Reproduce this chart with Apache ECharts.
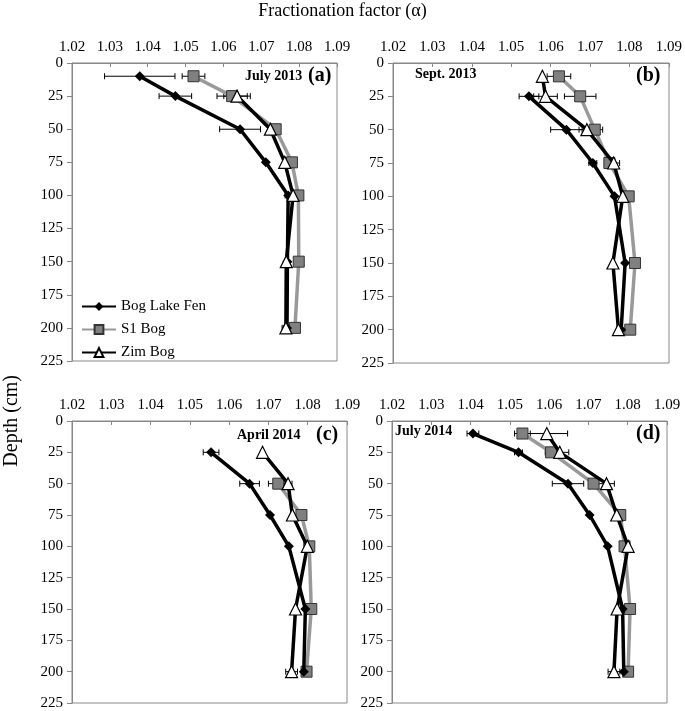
<!DOCTYPE html>
<html>
<head>
<meta charset="utf-8">
<script src="https://cdn.jsdelivr.net/npm/echarts@6/dist/echarts.min.js"></script>
<style>html,body{margin:0;padding:0;background:#fff}#chart{width:685px;height:711px}</style>
</head>
<body>
<div id="chart"></div>
<script>
// depth levels (cm)
var depthAll = [10, 25, 50, 75, 100, 150, 200];
var depthFrom25 = [25, 50, 75, 100, 150, 200];
var depthFrom50 = [50, 75, 100, 150, 200];

// panel (a) July 2013
var fenA = [1.0379, 1.0473, 1.0644, 1.0712, 1.0771, 1.0769, 1.0768];
var fenAErr = [0.0093, 0.0043, 0.0054, 0, 0.0008, 0, 0.001];
var s1A = [1.0521, 1.0623, 1.0738, 1.0781, 1.0798, 1.0799, 1.0789];
var s1AErr = [0.003, 0.004, 0, 0, 0, 0, 0];
var zimA = [1.0636, 1.0724, 1.0762, 1.0784, 1.0766, 1.0765];
var zimAErr = [0.0035, 0, 0, 0, 0, 0.001];

// panel (b) Sept. 2013
var fenB = [1.0545, 1.0640, 1.0707, 1.0762, 1.0789, 1.0779];
var fenBErr = [0.0025, 0.004, 0.001, 0, 0, 0];
var s1B = [1.0621, 1.0675, 1.0712, 1.0749, 1.0798, 1.0814, 1.0802];
var s1BErr = [0.003, 0.004, 0.002, 0, 0, 0, 0];
var zimB = [1.0579, 1.0587, 1.0692, 1.0760, 1.0783, 1.0758, 1.0772];
var zimBErr = [0, 0.003, 0.002, 0.0015, 0, 0, 0];

// panel (c) April 2014
var fenC = [1.0554, 1.0652, 1.0704, 1.0752, 1.0794, 1.0790];
var fenCErr = [0.002, 0.0025, 0, 0, 0, 0];
var s1C = [1.0725, 1.0784, 1.0804, 1.0809, 1.0797];
var s1CErr = [0.0025, 0, 0, 0, 0];
var zimC = [1.0685, 1.0750, 1.0761, 1.0799, 1.0769, 1.0759];
var zimCErr = [0, 0.001, 0, 0, 0, 0.0015];

// panel (d) July 2014
var fenD = [1.0406, 1.0522, 1.0648, 1.0703, 1.0749, 1.0787, 1.0790];
var fenDErr = [0.0015, 0.001, 0.004, 0, 0, 0, 0];
var s1D = [1.0532, 1.0605, 1.0713, 1.0781, 1.0792, 1.0806, 1.0801];
var s1DErr = [0.002, 0.0015, 0, 0, 0, 0, 0];
var zimD = [1.0594, 1.0627, 1.0746, 1.0772, 1.0801, 1.0773, 1.0765];
var zimDErr = [0.0053, 0.0023, 0.002, 0, 0, 0, 0.0015];

var panelLabels = ['July 2013', 'Sept. 2013', 'April 2014', 'July 2014'];
var panelLetters = ['(a)', '(b)', '(c)', '(d)'];

var font = 'Liberation Serif';

var panels = [
    {fen: fenA, fenErr: fenAErr, fenD: depthAll, s1: s1A, s1Err: s1AErr, s1D: depthAll, zim: zimA, zimErr: zimAErr, zimD: depthFrom25},
    {fen: fenB, fenErr: fenBErr, fenD: depthFrom25, s1: s1B, s1Err: s1BErr, s1D: depthAll, zim: zimB, zimErr: zimBErr, zimD: depthAll},
    {fen: fenC, fenErr: fenCErr, fenD: depthFrom25, s1: s1C, s1Err: s1CErr, s1D: depthFrom50, zim: zimC, zimErr: zimCErr, zimD: depthFrom25},
    {fen: fenD, fenErr: fenDErr, fenD: depthAll, s1: s1D, s1Err: s1DErr, s1D: depthAll, zim: zimD, zimErr: zimDErr, zimD: depthAll}
];

var grids = [
    {left: 72, width: 265, top: 63, height: 298},
    {left: 393, width: 276, top: 63, height: 300},
    {left: 72, width: 275, top: 421, height: 282},
    {left: 392, width: 275, top: 421, height: 282}
];

function pairs(vals, depths) {
    return vals.map(function(v, i) { return [v, depths[i]]; });
}
function errs(vals, e, depths) {
    var out = [];
    vals.forEach(function(v, i) {
        if (e[i] > 0) out.push([v - e[i], v + e[i], depths[i]]);
    });
    return out;
}

function errorBar(params, api) {
    var a = api.coord([api.value(0), api.value(2)]);
    var b = api.coord([api.value(1), api.value(2)]);
    var st = {stroke: '#000', lineWidth: 1};
    return {type: 'group', children: [
        {type: 'line', shape: {x1: a[0], y1: a[1], x2: b[0], y2: b[1]}, style: st},
        {type: 'line', shape: {x1: a[0], y1: a[1] - 3, x2: a[0], y2: a[1] + 3}, style: st},
        {type: 'line', shape: {x1: b[0], y1: b[1] - 3, x2: b[0], y2: b[1] + 3}, style: st}
    ]};
}

var xAxes = [], yAxes = [], series = [];

grids.forEach(function(g, k) {
    xAxes.push({
        gridIndex: k, type: 'value', position: 'top', min: 1.02, max: 1.09, interval: 0.01,
        axisLine: {lineStyle: {color: '#888'}},
        axisTick: {inside: true, length: 4, lineStyle: {color: '#888'}},
        axisLabel: {color: '#000', fontFamily: font, fontSize: 15, margin: 8,
            formatter: function(v) { return v.toFixed(2); }},
        splitLine: {show: false}
    });
    yAxes.push({
        gridIndex: k, type: 'value', inverse: true, min: 0, max: 225, interval: 25,
        axisLine: {lineStyle: {color: '#888'}},
        axisTick: {length: 5, lineStyle: {color: '#888'}},
        axisLabel: {color: '#000', fontFamily: font, fontSize: 15, margin: 9},
        splitLine: {show: false}
    });

    var p = panels[k];
    series.push({
        name: 'S1 Bog', type: 'line', xAxisIndex: k, yAxisIndex: k, z: 3,
        data: pairs(p.s1, p.s1D), symbol: 'rect', symbolSize: 11,
        lineStyle: {color: '#999', width: 3.5},
        itemStyle: {color: '#808080', borderColor: '#333', borderWidth: 1}
    });
    series.push({
        name: 'Bog Lake Fen', type: 'line', xAxisIndex: k, yAxisIndex: k, z: 4,
        data: pairs(p.fen, p.fenD), symbol: 'diamond', symbolSize: 10,
        lineStyle: {color: '#000', width: 3.5},
        itemStyle: {color: '#000'}
    });
    series.push({
        name: 'Zim Bog', type: 'line', xAxisIndex: k, yAxisIndex: k, z: 5,
        data: pairs(p.zim, p.zimD), symbol: 'triangle', symbolSize: 12,
        lineStyle: {color: '#000', width: 3.5},
        itemStyle: {color: '#fff', borderColor: '#000', borderWidth: 1.2}
    });
    var e = errs(p.fen, p.fenErr, p.fenD).concat(errs(p.s1, p.s1Err, p.s1D), errs(p.zim, p.zimErr, p.zimD));
    series.push({
        type: 'custom', xAxisIndex: k, yAxisIndex: k, z: 2,
        renderItem: errorBar, data: e, silent: true
    });
});

// frames (box around each plot)
var graphics = grids.map(function(g) {
    return {type: 'rect', shape: {x: g.left, y: g.top, width: g.width, height: g.height},
        style: {fill: null, stroke: '#888', lineWidth: 1}, silent: true};
});

var labelPos = [
    {lx: 245, ly: 69, px: 308, py: 66},
    {lx: 415, ly: 67, px: 636, py: 66},
    {lx: 237, ly: 428, px: 316, py: 425},
    {lx: 395, ly: 424, px: 636, py: 424}
];
labelPos.forEach(function(l, k) {
    graphics.push({type: 'text', left: l.lx, top: l.ly,
        style: {text: panelLabels[k], font: 'bold 14px "Liberation Serif"', fill: '#000'}});
    graphics.push({type: 'text', left: l.px, top: l.py,
        style: {text: panelLetters[k], font: 'bold 20px "Liberation Serif"', fill: '#000'}});
});

graphics.push({type: 'text', left: 'center', top: 2,
    style: {text: 'Fractionation factor (α)', font: '18px "Liberation Serif"', fill: '#000'}});
graphics.push({type: 'text', left: 2, top: 375, rotation: Math.PI / 2,
    style: {text: 'Depth (cm)', font: '20px "Liberation Serif"', fill: '#000'}});

var option = {
    animation: false,
    grid: grids,
    xAxis: xAxes,
    yAxis: yAxes,
    series: series,
    graphic: graphics,
    legend: {
        data: ['Bog Lake Fen', 'S1 Bog', 'Zim Bog'],
        orient: 'vertical', left: 76, top: 294, itemGap: 8,
        itemWidth: 34, itemHeight: 11,
        textStyle: {fontFamily: font, fontSize: 15, color: '#000'}
    }
};

var myChart = echarts.init(document.getElementById('chart'));
myChart.setOption(option);
</script>
</body>
</html>
